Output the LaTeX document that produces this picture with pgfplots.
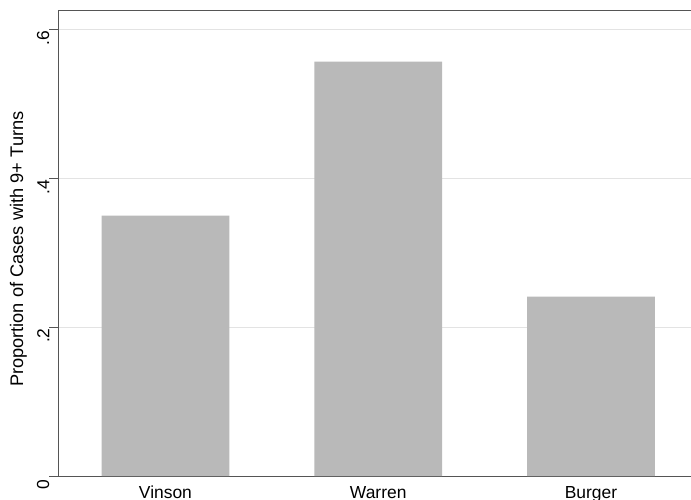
\documentclass[border=0pt]{standalone}
\usepackage{pgfplots}
\pgfplotsset{compat=1.18}
\usepackage{fontspec}
\setmainfont{Liberation Sans}
\definecolor{barg}{HTML}{B9B9B9}
\definecolor{gridg}{HTML}{E3E3E3}
\definecolor{axg}{HTML}{555555}
\begin{document}
\begin{tikzpicture}
\begin{axis}[
  name=ax,
  scale only axis,
  width=633bp, height=465.5bp,
  axis lines=left,
  axis line style={axg, line width=1pt, -},
  xmin=0.495, xmax=3.47,
  ymin=0, ymax=0.6256,
  xtick={1,2,3},
  xticklabels={Vinson,Warren,Burger},
  major x tick style={draw=none},
  ytick={0,0.2,0.4,0.6},
  yticklabels={0,.2,.4,.6},
  ytick style={axg, line width=0.8pt},
  tick align=outside,
  major tick length=8.5bp,
  ymajorgrids,
  grid style={gridg, line width=0.8pt},
  tick label style={font=\fontsize{17.5}{21}\selectfont},
  yticklabel style={rotate=90, anchor=south, inner sep=0pt, xshift=-8.5bp},
  xticklabel style={anchor=north, inner sep=0pt, yshift=-1.5bp},
  ylabel={Proportion of Cases with 9+ Turns},
  ylabel style={font=\fontsize{18.3}{22}\selectfont, at={(ticklabel cs:0.5)}, anchor=south, yshift=6.5bp, xshift=-6bp},
  clip=false,
]
\addplot[ybar, bar width=0.6, fill=barg, draw=none] coordinates {(1,0.350) (2,0.557) (3,0.241)};
\draw[axg, line width=1pt] (rel axis cs:0,1) -- (rel axis cs:1,1);
\end{axis}
\pgfresetboundingbox
\path[use as bounding box] ([xshift=-58bp,yshift=-24bp]ax.south west) rectangle ([yshift=10.5bp]ax.north east);
\end{tikzpicture}
\end{document}
